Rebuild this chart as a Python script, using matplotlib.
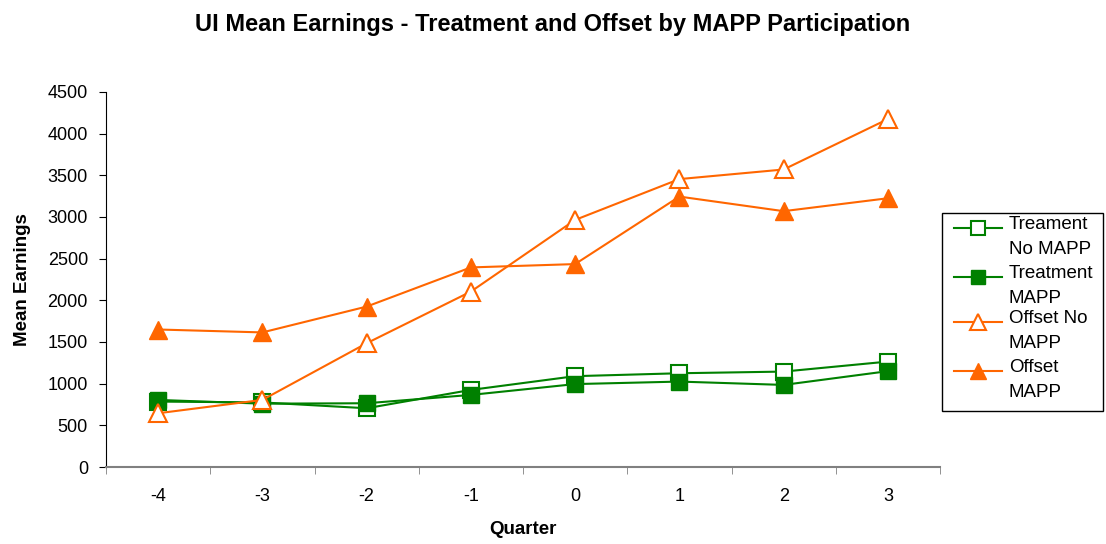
import matplotlib
matplotlib.use("Agg")
import matplotlib.pyplot as plt
from matplotlib.lines import Line2D
from matplotlib.patches import Rectangle

plt.rcParams["font.family"] = ["Liberation Sans", "DejaVu Sans"]

# ── Data ───────────────────────────────────────────────
quarters = ["-4", "-3", "-2", "-1", "0", "1", "2", "3"]
treat_no_mapp = [785, 775, 705, 925, 1090, 1125, 1145, 1265]
treat_mapp = [805, 760, 765, 865, 995, 1025, 985, 1150]
offset_no_mapp = [645, 805, 1485, 2105, 2965, 3455, 3570, 4175]
offset_mapp = [1650, 1615, 1925, 2395, 2435, 3245, 3070, 3225]
labels = ["Treament\nNo MAPP", "Treatment\nMAPP", "Offset No\nMAPP", "Offset\nMAPP"]

GREEN = "#008000"
ORANGE = "#FF6600"
W, H = 1106, 544

fig = plt.figure(figsize=(W / 100, H / 100), dpi=100)
ax = fig.add_axes([106 / W, 1 - 467 / H, 834 / W, 375 / H])

x = list(range(len(quarters)))
styles = [
    dict(color=GREEN, marker="s", ms=11, mfc="white", mec=GREEN, mew=1.5),
    dict(color=GREEN, marker="s", ms=11, mfc=GREEN, mec=GREEN),
    dict(color=ORANGE, marker="^", ms=13, mfc="white", mec=ORANGE, mew=1.5),
    dict(color=ORANGE, marker="^", ms=13, mfc=ORANGE, mec=ORANGE),
]
series = [treat_no_mapp, treat_mapp, offset_no_mapp, offset_mapp]
for vals, st in zip(series, styles):
    ax.plot(x, vals, lw=1.5, **st)

ax.set_xlim(-0.5, len(quarters) - 0.5)
ax.set_ylim(0, 4500)
ax.set_yticks(range(0, 4501, 500))
ax.set_xticks(x)
ax.set_xticklabels(quarters)
ax.set_xticks([i - 0.5 for i in range(len(quarters) + 1)], minor=True)
ax.tick_params(axis="x", which="major", length=0, labelsize=13, pad=15)
ax.tick_params(axis="x", which="minor", length=5, direction="out", color="#808080")
ax.tick_params(axis="y", length=5, direction="out", labelsize=13, pad=8)

for side in ["top", "right"]:
    ax.spines[side].set_visible(False)
ax.spines["bottom"].set_color("#808080")
ax.spines["bottom"].set_linewidth(1.5)
ax.spines["left"].set_color("black")

ax.set_xlabel("Quarter", fontsize=13.5, fontweight="bold", labelpad=12)
ax.set_ylabel("Mean Earnings", fontsize=13.5, fontweight="bold", labelpad=12)
fig.suptitle("UI Mean Earnings - Treatment and Offset by MAPP Participation",
             fontsize=17, fontweight="bold", y=1 - 25 / H, va="center")

# ── Legend (drawn by hand so the marker sits on the first text line) ──
tf = fig.transFigure
fig.add_artist(Rectangle((942 / W, 1 - 411 / H), 161 / W, 198 / H, transform=tf,
                         fill=False, edgecolor="black", lw=1.0))
row_y = [228, 277, 322, 371]
for yy, st, lab in zip(row_y, styles, labels):
    fy = 1 - yy / H
    fig.add_artist(Line2D([954 / W, 1002 / W], [fy, fy], transform=tf, color=st["color"], lw=1.5))
    mk = {k: v for k, v in st.items() if k != "color"}
    mk["ms"] = mk["ms"] - 1
    fig.add_artist(Line2D([978 / W], [fy], transform=tf, ls="none", **mk))
    fig.text(1009 / W, 1 - (yy - 12) / H, lab, fontsize=13.5, va="top", ha="left",
             linespacing=1.65)

fig.savefig("out.png", dpi=100)
